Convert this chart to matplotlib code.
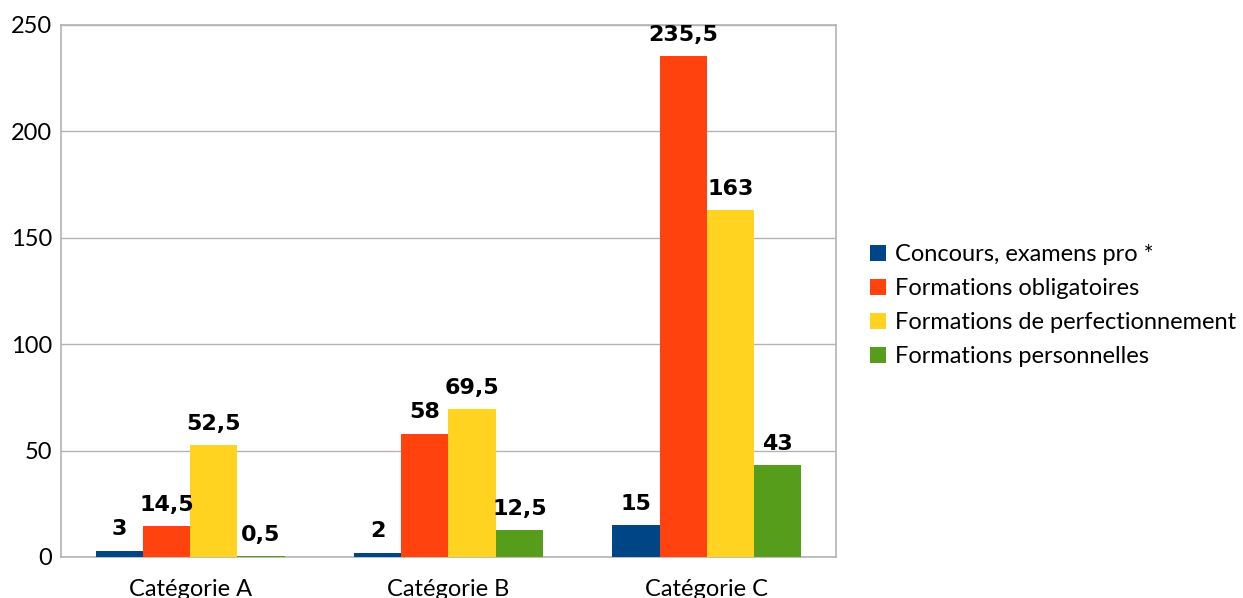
import matplotlib.pyplot as plt
import numpy as np

plt.rcParams['font.family'] = ['Lato', 'DejaVu Sans']

categories = ["Catégorie A", "Catégorie B", "Catégorie C"]
series_names = ["Concours, examens pro *", "Formations obligatoires",
                "Formations de perfectionnement", "Formations personnelles"]
concours = [3, 2, 15]
obligatoires = [14.5, 58, 235.5]
perfectionnement = [52.5, 69.5, 163]
personnelles = [0.5, 12.5, 43]
colors = ["#004586", "#ff420e", "#ffd320", "#579d1c"]

series = [concours, obligatoires, perfectionnement, personnelles]

fig = plt.figure(figsize=(12.43, 5.98), dpi=100)
ax = fig.add_axes([0.049, 0.0686, 0.6236, 0.8896])

x = np.arange(len(categories))
w = 0.183
for i, (vals, name, c) in enumerate(zip(series, series_names, colors)):
    pos = x + (i - 1.5) * w
    bars = ax.bar(pos, vals, width=w, color=c, label=name, zorder=3)
    for b, v in zip(bars, vals):
        txt = f"{v:g}".replace(".", ",")
        ax.annotate(txt, (b.get_x() + b.get_width() / 2, v), xytext=(0, 11),
                    textcoords="offset points", ha="center", va="baseline",
                    fontsize=16, fontweight="bold", family="DejaVu Sans",
                    zorder=4, annotation_clip=False)

ax.set_xlim(-0.5, 2.5)
ax.set_ylim(0, 250)
ax.set_yticks(range(0, 251, 50))
ax.set_xticks(x)
ax.set_xticklabels(categories)
ax.tick_params(axis="both", length=0, labelsize=17)
ax.tick_params(axis="x", pad=15.5)
ax.tick_params(axis="y", pad=6.5)
ax.grid(axis="y", color="#b3b3b3", lw=1, zorder=0)
for s in ax.spines.values():
    s.set_color("#b3b3b3")
    s.set_linewidth(1.2)

ax.legend(loc="center left", bbox_to_anchor=(1.031, 0.472), frameon=False,
          fontsize=17, handlelength=0.7, handleheight=0.7,
          handletextpad=0.4, labelspacing=0.55, borderaxespad=0)

fig.savefig("out.png", dpi=100)
